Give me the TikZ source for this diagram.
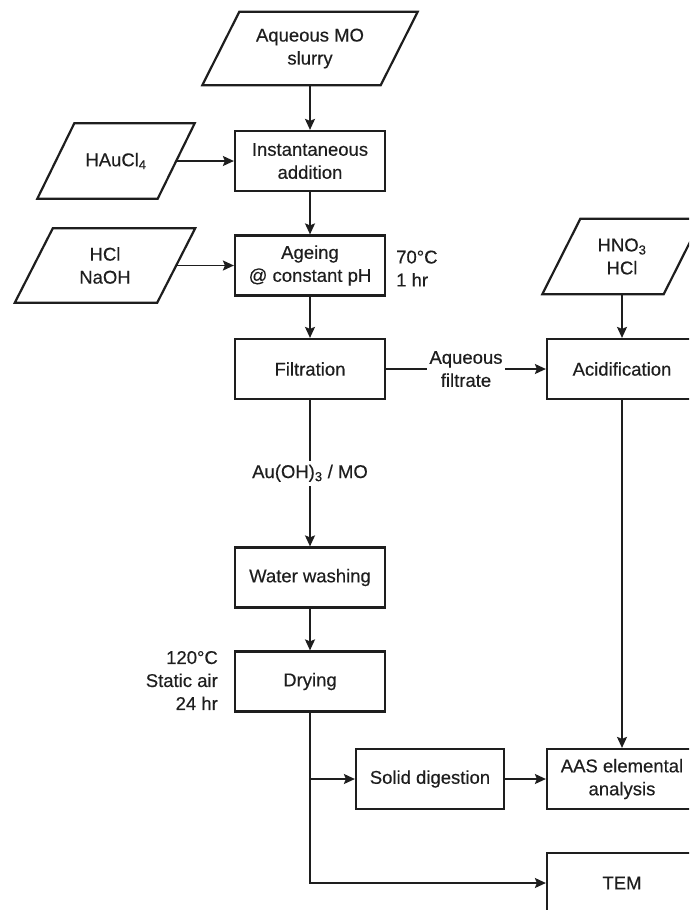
\documentclass[tikz,border=0pt]{standalone}
\usepackage{fontspec}
\setmainfont{Liberation Sans}[FakeBold=0.4]
\usetikzlibrary{arrows.meta}
\definecolor{ink}{HTML}{1E1E1E}
\begin{document}
\begin{tikzpicture}[x=1pt,y=-1pt,
  every node/.style={text=ink, font=\fontsize{18.5}{23}\selectfont},
  box/.style={draw=ink, line width=2.2pt, minimum width=150pt, minimum height=60pt, align=center, inner sep=0pt},
  paratext/.style={align=center, inner sep=0pt},
  paraline/.style={draw=ink, line width=2.2pt, line join=miter},
  arr/.style={draw=ink, line width=1.8pt, -{Stealth[length=11pt,width=10pt,inset=2pt]}},
  lbl/.style={fill=white, inner xsep=2pt, inner ysep=4pt, align=center},
  note/.style={inner sep=0pt}
]
\useasboundingbox (0,0) rectangle (689,910);
\clip (0,0) rectangle (689,910);

% input parallelograms (text nodes sized to the side width and height)
\node[paratext, minimum width=178pt, minimum height=73pt] (aq) at (310,48.5) {Aqueous MO\\slurry};
\draw[paraline] ([xshift=18.5pt]aq.north west) -- ([xshift=18.5pt]aq.north east) -- ([xshift=-18.5pt]aq.south east) -- ([xshift=-18.5pt]aq.south west) -- cycle;

\node[paratext, minimum width=120pt, minimum height=75pt] (hau) at (116,161) {HAuCl\textsubscript{4}};
\draw[paraline] ([xshift=18.5pt]hau.north west) -- ([xshift=18.5pt]hau.north east) -- ([xshift=-18.5pt]hau.south east) -- ([xshift=-18.5pt]hau.south west) -- cycle;

\node[paratext, minimum width=142pt, minimum height=74pt] (hcl) at (105,265.5) {HCl\\NaOH};
\draw[paraline] ([xshift=19pt]hcl.north west) -- ([xshift=19pt]hcl.north east) -- ([xshift=-19pt]hcl.south east) -- ([xshift=-19pt]hcl.south west) -- cycle;

\node[paratext, minimum width=121pt, minimum height=75pt] (hno) at (622,256.5) {HNO\textsubscript{3}\\HCl};
\draw[paraline] ([xshift=19pt]hno.north west) -- ([xshift=19pt]hno.north east) -- ([xshift=-19pt]hno.south east) -- ([xshift=-19pt]hno.south west) -- cycle;

% process boxes
\node[box] (inst) at (310,161) {Instantaneous\\addition};
\node[box] (age) at (310,265.5) {Ageing\\@ constant pH};
\node[note, anchor=west, align=left] (cond1) at (396,268.5) {70°C\\1 hr};
\node[box] (filt) at (310,369) {Filtration};
\node[box] (acid) at (622,369) {Acidification};
\node[box] (wash) at (310,577.5) {Water washing};
\node[box] (dry) at (310,681.5) {Drying};
\node[note, anchor=east, align=right] (cond2) at (218,680.5) {120°C\\Static air\\24 hr};
\node[box, minimum width=148pt] (sol) at (430,779) {Solid digestion};
\node[box] (aas) at (622,779) {AAS elemental\\analysis};
\node[box] (tem) at (622,883) {TEM};

% connectors
\draw[arr] (aq.south) -- (inst.north);
\draw[arr] (hau.east) -- (inst.west);
\draw[arr] (inst) -- (age);
\draw[arr] (hcl.east) -- (age.west);
\draw[arr] (age) -- (filt);
\draw[arr] (filt) -- node[lbl] {Aqueous\\filtrate} (acid);
\draw[arr] (hno.south) -- (acid.north);
\draw[arr] (filt) -- node[lbl] {Au(OH)\textsubscript{3} / MO} (wash);
\draw[arr] (wash) -- (dry);
\draw[arr] (acid) -- (aas);
\draw[arr] (sol) -- (aas);
\draw[arr] (dry.south) |- (tem.west);
\coordinate (branch) at (dry.south |- sol.west);
\draw[arr] (branch) -- (sol.west);
\end{tikzpicture}
\end{document}
